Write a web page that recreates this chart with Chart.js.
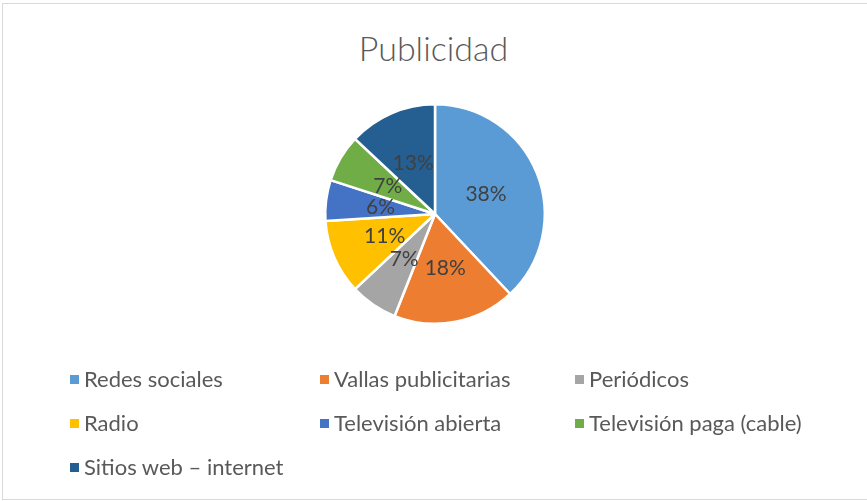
<!DOCTYPE html>
<html>
<head>
<meta charset="utf-8">
<script src="https://cdn.jsdelivr.net/npm/chart.js@4/dist/chart.umd.min.js"></script>
<style>
  body { margin: 0; background: #fff; }
  #wrap { position: relative; width: 867px; height: 501px; overflow: hidden; font-family: Lato, "Open Sans", sans-serif; }
  #frame { position: absolute; left: 2px; top: 3px; width: 880px; height: 495px; border: 1px solid #d9d9d9; }
  #title { position: absolute; left: 0; width: 867px; top: 27px; text-align: center; font-size: 34px; font-weight: 300; color: #595959; }
  .leg { position: absolute; font-size: 22px; color: #595959; white-space: nowrap; }
  .leg span { display: inline-block; width: 9px; height: 9px; margin-right: 5px; vertical-align: 3px; }
  canvas { position: absolute; left: 0; top: 0; }
</style>
</head>
<body>
<div id="wrap">
  <div id="frame"></div>
  <div id="title">Publicidad</div>
  <canvas id="myChart" width="867" height="501"></canvas>
  <div id="legend"></div>
</div>
<script>
// datos
var labels = ['Redes sociales', 'Vallas publicitarias', 'Periódicos', 'Radio', 'Televisión abierta', 'Televisión paga (cable)', 'Sitios web – internet'];
var values = [38, 18, 7, 11, 6, 7, 13];
var colors = ['#5B9BD5', '#ED7D31', '#A5A5A5', '#FFC000', '#4472C4', '#70AD47', '#255E91'];

// legend (3 columns like excel)
var colX = [70, 320, 575];
var rowY = [365, 409, 453];
var legend = document.getElementById('legend');
labels.forEach(function (l, i) {
    var d = document.createElement('div');
    d.className = 'leg';
    d.style.left = colX[i % 3] + 'px';
    d.style.top = rowY[Math.floor(i / 3)] + 'px';
    d.innerHTML = '<span style="background:' + colors[i] + '"></span>' + l;
    legend.appendChild(d);
});

// percent labels inside the slices
var pctLabels = {
    id: 'pctLabels',
    afterDatasetsDraw: function (chart) {
        var ctx = chart.ctx;
        var meta = chart.getDatasetMeta(0);
        var total = values.reduce(function (a, b) { return a + b; }, 0);
        ctx.save();
        ctx.font = '21px Lato';
        ctx.fillStyle = '#404040';
        ctx.textAlign = 'center';
        ctx.textBaseline = 'middle';
        meta.data.forEach(function (arc, i) {
            var p = arc.tooltipPosition();
            ctx.fillText(Math.round(values[i] / total * 100) + '%', p.x, p.y);
        });
        ctx.restore();
    }
};

var ctx = document.getElementById('myChart').getContext('2d');
var myChart = new Chart(ctx, {
    type: 'pie',
    data: {
        labels: labels,
        datasets: [{
            data: values,
            backgroundColor: colors,
            borderColor: '#ffffff',
            borderWidth: 2.5
        }]
    },
    options: {
        responsive: false,
        animation: false,
        layout: { padding: { top: 103, bottom: 176, left: 324, right: 321 } },
        plugins: {
            legend: { display: false },
            tooltip: { enabled: false }
        }
    },
    plugins: [pctLabels]
});
</script>
</body>
</html>
